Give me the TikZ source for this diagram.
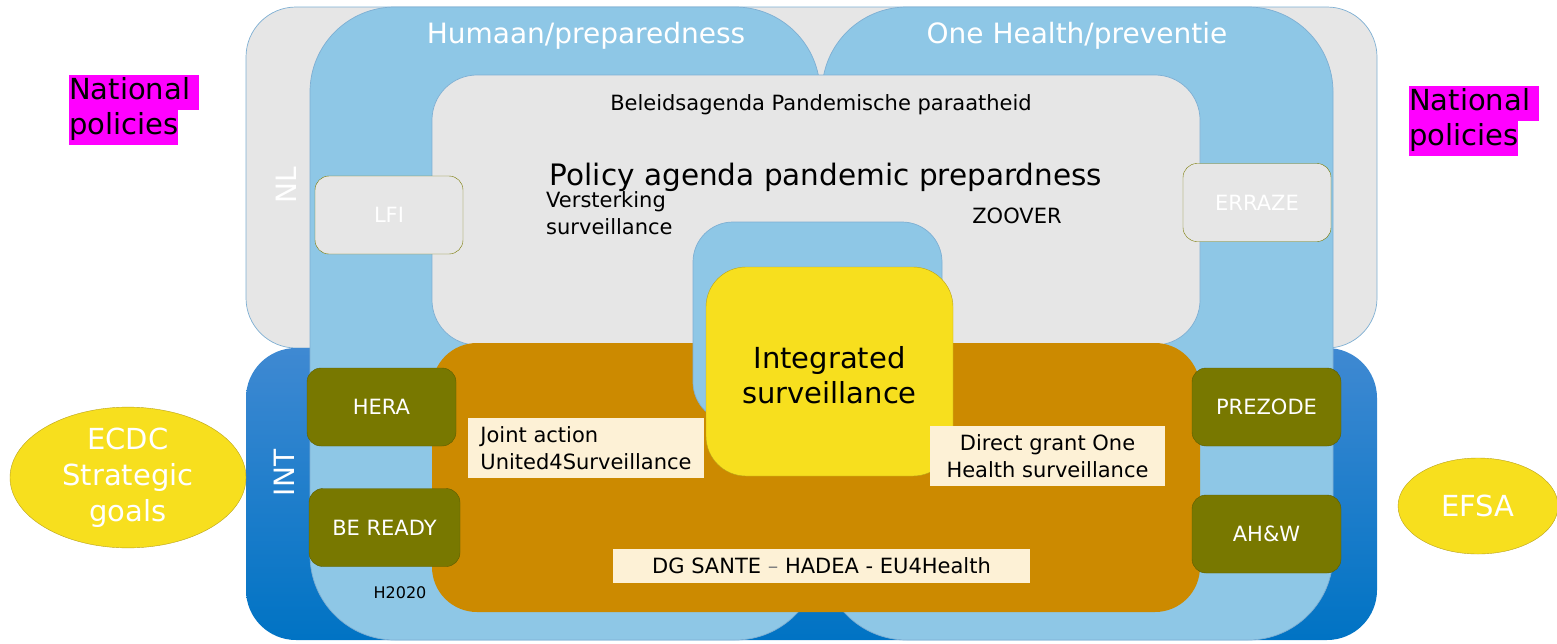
\documentclass[tikz,border=0pt]{standalone}
\usepackage{fontspec}
\setmainfont{DejaVu Sans}
\usetikzlibrary{positioning,shapes.geometric}

\definecolor{nlgrey}{HTML}{E6E6E6}
\definecolor{edgeblue}{HTML}{7EAFD3}
\definecolor{skyblue}{HTML}{8EC7E6}
\definecolor{inttop}{HTML}{3F89D2}
\definecolor{intbot}{HTML}{0073C4}
\definecolor{ochre}{HTML}{CC8A00}
\definecolor{sunny}{HTML}{F7DF1E}
\definecolor{sunnyedge}{HTML}{B9A21A}
\definecolor{olive}{HTML}{787800}
\definecolor{oliveedge}{HTML}{5C5C00}
\definecolor{cream}{HTML}{FDF1D6}
\definecolor{hotpink}{HTML}{FF00FF}

\newcommand{\pinkline}[1]{\colorbox{hotpink}{\strut #1}}
\setlength{\fboxsep}{0pt}

\begin{document}
\begin{tikzpicture}[x=1pt,y=-1pt,inner sep=0pt]
    \tikzset{
      area/.style={draw=edgeblue,line width=0.7pt},
      projbox/.style={draw=oliveedge,fill=olive,rounded corners=14pt,
        minimum width=149pt,minimum height=78pt,text=white,font=\fontsize{21}{25}\selectfont},
      nlbox/.style={draw=olive,fill=nlgrey,rounded corners=14pt,
        minimum width=148pt,minimum height=78pt,text=white,font=\fontsize{21}{25}\selectfont},
      tag/.style={fill=cream,font=\fontsize{21}{27}\selectfont},
      goal/.style={ellipse,draw=sunnyedge,fill=sunny,text=white,align=center,
        font=\fontsize{29}{36}\selectfont},
      small/.style={font=\fontsize{21}{27}\selectfont},
      big/.style={font=\fontsize{28}{35}\selectfont}
    }
    \useasboundingbox (0,0) rectangle (1557,643);
    % NL and INT layers
    \node[area,fill=nlgrey,rounded corners=50pt,minimum width=1131pt,minimum height=341pt] (nl) at (811.5,177.5) {};
    \node[area,draw=none,top color=inttop,bottom color=intbot,rounded corners=50pt,
      minimum width=1131pt,minimum height=292pt] (int) at (811.5,494) {};
    % the two columns
    \node[area,fill=skyblue,rounded corners=85pt,minimum width=510pt,minimum height=633pt] (human) at (565,323.5) {};
    \node[area,fill=skyblue,rounded corners=85pt,minimum width=511pt,minimum height=633pt] (onehealth) at (1077.5,323.5) {};
    \node[big,text=white] (humanlbl) at (586,36) {Humaan/preparedness};
    \node[big,text=white] (ohlbl) at (1077,36) {One Health/preventie};
    \node[big,text=white,rotate=90] (nllbl) at (286,185) {NL};
    \node[big,text=white,rotate=90] (intlbl) at (284,473) {INT};
    % policy agenda
    \node[area,fill=nlgrey,rounded corners=45pt,minimum width=768pt,minimum height=270pt] (agenda) at (816,210) {};
    \node[area,draw=none,fill=ochre,rounded corners=45pt,minimum width=768pt,minimum height=269pt] (eu) at (816,477.5) {};
    \node[small] (beleid) at (821,105) {Beleidsagenda Pandemische paraatheid};
    \node[font=\fontsize{29.5}{35}\selectfont] (policy) at (826,177) {Policy agenda pandemic prepardness};
    \node[small,anchor=west,align=left] (versterking) at (546,213) {Versterking\\surveillance};
    \node[small] (zoover) at (1017,216) {ZOOVER};
    % integrated surveillance
    \node[area,fill=skyblue,rounded corners=40pt,minimum width=249pt,minimum height=200pt] (core) at (817.5,322) {};
    \node[draw=sunnyedge,fill=sunny,rounded corners=40pt,minimum width=247pt,minimum height=209pt] (integrated) at (829.5,371.5) {};
    \node[font=\fontsize{29}{35}\selectfont,align=center] (intlabel) at (829.5,375) {Integrated\\surveillance};
    % projects
    \node[nlbox] (lfi) at (389,215) {LFI};
    \node[nlbox] (erraze) at (1257,202.5) {ERRAZE};
    \node[projbox] (hera) at (381.5,407) {HERA};
    \node[projbox,minimum width=151pt] (beready) at (384.5,527.5) {BE READY};
    \node[projbox] (prezode) at (1266.5,407) {PREZODE};
    \node[projbox] (ahw) at (1266.5,534) {AH\&W};
    \node[small] (h2020) at (400,593) {\fontsize{16}{19}\selectfont H2020};
    % funding labels
    \node[tag,align=left,minimum width=236pt,minimum height=60pt] (joint) at (586,448) {Joint action\\United4Surveillance};
    \node[tag,align=center,minimum width=235pt,minimum height=60pt] (grant) at (1047.5,456) {Direct grant One\\Health surveillance};
    \node[tag,minimum width=417pt,minimum height=34pt] (dgsante) at (821.5,566) {DG SANTE {\color{gray}--} HADEA - EU4Health};
    % outside
    \node[anchor=north west,align=left,font=\fontsize{29}{35}\selectfont] (natleft) at (69,75)
      {\pinkline{National\hspace{9pt}}\\\pinkline{policies}};
    \node[anchor=north west,align=left,font=\fontsize{29}{35}\selectfont] (natright) at (1409,86)
      {\pinkline{National\hspace{9pt}}\\\pinkline{policies}};
    \node[goal,minimum width=236pt,minimum height=125pt] (ecdc) at (128,477.5) {ECDC\\Strategic\\goals};
    \node[goal,minimum width=160pt,minimum height=96pt] (efsa) at (1478,506) {EFSA};
\end{tikzpicture}
\end{document}
